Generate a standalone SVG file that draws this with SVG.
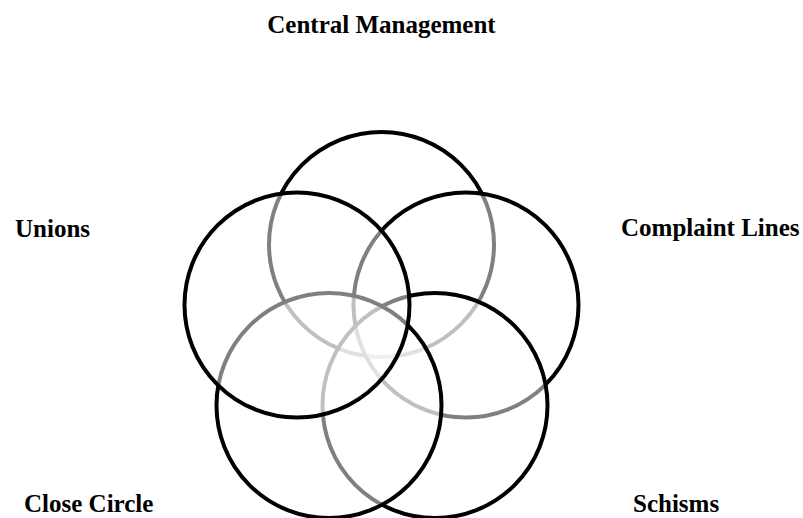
<svg xmlns="http://www.w3.org/2000/svg" width="803" height="518" viewBox="0 0 803 518">
<style>
.c{fill:#fff;fill-opacity:0.5;stroke:#000;stroke-width:4}
.t{font-family:"Liberation Serif","Times New Roman",serif;font-weight:bold;font-size:25px;fill:#000}
</style>
<rect width="803" height="518" fill="#fff"/>
<g id="central-management">
<circle class="c" cx="381.5" cy="244.5" r="112.5"/>
<text class="t" x="381.5" y="33" text-anchor="middle">Central Management</text>
</g>
<g id="complaint-lines">
<circle class="c" cx="466" cy="305" r="112.5"/>
<text class="t" x="621" y="236">Complaint Lines</text>
</g>
<g id="schisms">
<circle class="c" cx="435" cy="405.5" r="112.5"/>
<text class="t" x="633" y="512">Schisms</text>
</g>
<g id="close-circle">
<circle class="c" cx="329" cy="405.5" r="112.5"/>
<text class="t" x="24" y="512">Close Circle</text>
</g>
<g id="unions">
<circle class="c" cx="297" cy="305" r="112.5"/>
<text class="t" x="15" y="237">Unions</text>
</g>
<g id="connectors"/>
</svg>
